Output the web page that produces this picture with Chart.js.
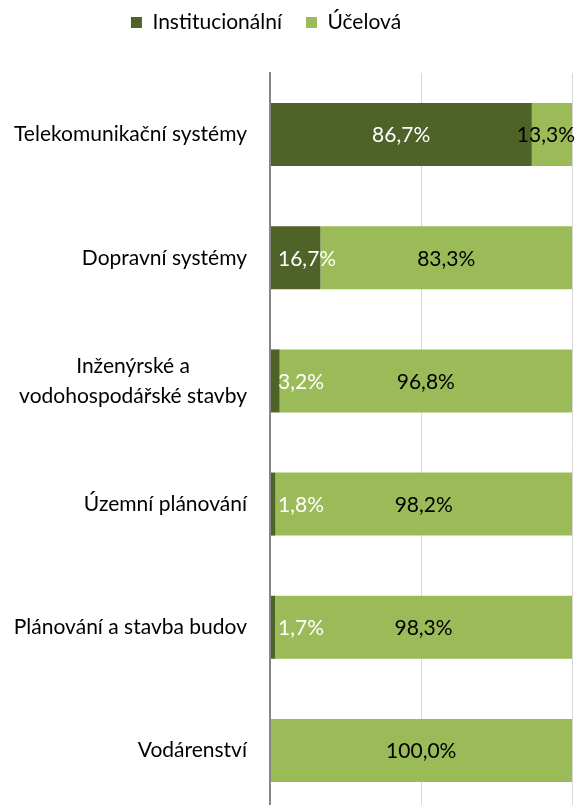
<!DOCTYPE html>
<html><head><meta charset="utf-8">
<script src="https://cdn.jsdelivr.net/npm/chart.js@4"></script>
<style>
html,body{margin:0;padding:0;background:#fff;overflow:hidden;}
#view{position:relative;width:578px;height:805px;overflow:hidden;background:#fff;}
#box{position:absolute;left:-40px;top:-12px;width:618px;height:824px;}
</style></head><body>
<div id="view"><div id="box"><canvas id="c"></canvas></div></div>
<script>
const categories = ['Telekomunikační systémy', 'Dopravní systémy', ['Inženýrské a', 'vodohospodářské stavby'], 'Územní plánování', 'Plánování a stavba budov', 'Vodárenství'];
const seriesNames = ['Institucionální', 'Účelová'];
const institucionalni = [86.7, 16.7, 3.2, 1.8, 1.7, 0];
const ucelova = [13.3, 83.3, 96.8, 98.2, 98.3, 100.0];
const axisTicks = [0, 50, 100];

const FONT = 'Lato, "Open Sans", sans-serif';
const SIZE = 21;
const DARK = '#4F6228', LIGHT = '#9BBB59';

const labelPlugin = {
  id: 'labelsDraw',
  afterDatasetsDraw(chart) {
    const ctx = chart.ctx, area = chart.chartArea;
    ctx.save();
    ctx.font = SIZE + 'px ' + FONT;
    ctx.textBaseline = 'middle';
    ctx.textAlign = 'center';
    chart.data.datasets.forEach((ds, di) => {
      const meta = chart.getDatasetMeta(di);
      meta.data.forEach((bar, j) => {
        const v = ds.data[j];
        if (!v) return;
        const txt = v.toFixed(1).replace('.', ',') + '%';
        const w = ctx.measureText(txt).width;
        const l = Math.min(bar.x, bar.base), r = Math.max(bar.x, bar.base);
        let cx = (l + r) / 2;
        cx = Math.max(cx, area.left + w / 2 + 8);
        cx = Math.min(cx, area.right - w / 2 + 3);
        ctx.fillStyle = di === 0 ? '#FFFFFF' : '#000000';
        ctx.fillText(txt, cx, bar.y + 1);
      });
    });
    ctx.restore();
  },
  afterDraw(chart) {
    const ctx = chart.ctx, ys = chart.scales.y;
    ctx.save();
    ctx.font = SIZE + 'px ' + FONT;
    ctx.fillStyle = '#000';
    ctx.textBaseline = 'middle';
    ctx.textAlign = 'center';
    const LH = 30;
    categories.forEach((lab, i) => {
      const lines = Array.isArray(lab) ? lab : [lab];
      const y = ys.getPixelForTick(i);
      const w = Math.max(...lines.map(s => ctx.measureText(s).width));
      const cx = ys.right - 23 - w / 2;
      lines.forEach((s, k) => ctx.fillText(s, cx, y + (k - (lines.length - 1) / 2) * LH));
    });
    ctx.restore();
  }
};

new Chart(document.getElementById('c'), {
  type: 'bar',
  data: {
    labels: categories,
    datasets: [
      { label: seriesNames[0], data: institucionalni, backgroundColor: DARK, borderWidth: 0, barPercentage: 0.512, categoryPercentage: 1 },
      { label: seriesNames[1], data: ucelova, backgroundColor: LIGHT, borderWidth: 0, barPercentage: 0.512, categoryPercentage: 1 }
    ]
  },
  options: {
    indexAxis: 'y',
    responsive: true,
    maintainAspectRatio: false,
    animation: false,
    devicePixelRatio: 1,
    layout: { padding: { left: 0, right: 6, top: 0, bottom: 0 } },
    scales: {
      x: {
        type: 'linear', position: 'top', stacked: true, min: axisTicks[0], max: axisTicks[axisTicks.length - 1],
        ticks: { display: false, stepSize: axisTicks[1] - axisTicks[0] },
        grid: { color: '#D9D9D9', lineWidth: 1, drawTicks: false },
        border: { display: false },
        afterFit(s) { s.height = 30; }
      },
      y: {
        stacked: true,
        ticks: { display: false },
        grid: { display: false, drawTicks: false },
        border: { display: true, color: '#868686', width: 2, z: 1 },
        afterFit(s) { s.width = 310; }
      }
    },
    plugins: {
      legend: {
        position: 'top',
        labels: { boxWidth: 11, boxHeight: 11, padding: 24, color: '#000', font: { family: FONT, size: SIZE } }
      },
      tooltip: { enabled: false }
    }
  },
  plugins: [labelPlugin]
});
</script>
</body></html>
